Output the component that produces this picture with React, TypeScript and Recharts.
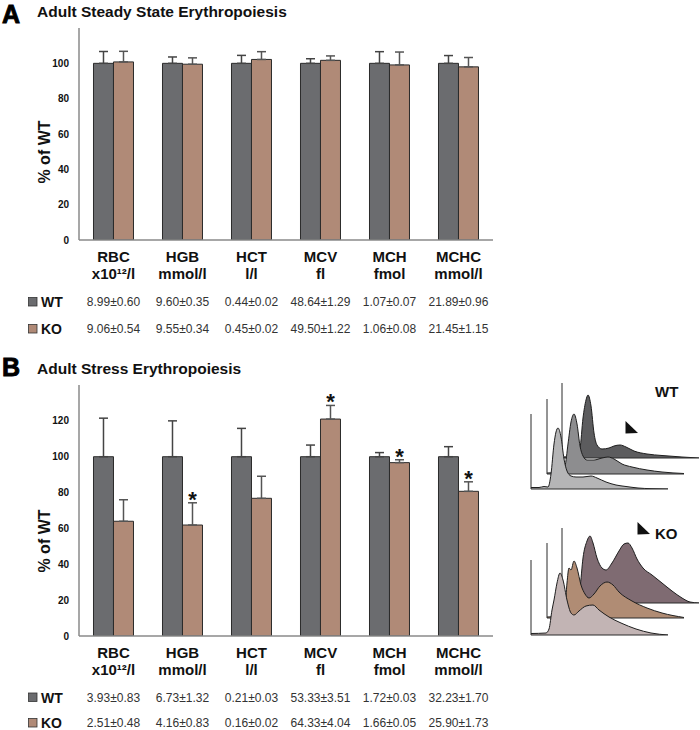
import React from "react";
import {
  BarChart,
  Bar,
  XAxis,
  YAxis,
  ErrorBar,
  LabelList,
  AreaChart,
  Area,
  ReferenceLine,
} from "recharts";

const FONT = "'Liberation Sans', Arial, Helvetica, sans-serif";

// ---------- data ----------
const categories = ["RBC", "HGB", "HCT", "MCV", "MCH", "MCHC"];
const units = ["x10¹²/l", "mmol/l", "l/l", "fl", "fmol", "mmol/l"];

// Panel A – steady state (% of WT)
const steadyWT = [100, 100, 100, 100, 100, 100];
const steadyWTErr = [6.7, 3.6, 4.5, 2.6, 6.6, 4.4];
const steadyKO = [100.8, 99.5, 102.2, 101.7, 99.1, 98.0];
const steadyKOErr = [6.0, 3.6, 4.4, 2.5, 7.3, 5.3];
const steadyWTText = ["8.99±0.60", "9.60±0.35", "0.44±0.02", "48.64±1.29", "1.07±0.07", "21.89±0.96"];
const steadyKOText = ["9.06±0.54", "9.55±0.34", "0.45±0.02", "49.50±1.22", "1.06±0.08", "21.45±1.15"];

// Panel B – stress (% of WT)
const stressWT = [100, 100, 100, 100, 100, 100];
const stressWTErr = [21.5, 20.0, 15.8, 6.5, 2.3, 5.6];
const stressKO = [64.0, 61.9, 76.8, 121.0, 96.7, 80.7];
const stressKOErr = [12.0, 12.4, 12.3, 7.6, 1.6, 5.3];
const stressStar = [false, true, false, true, true, true];
const stressWTText = ["3.93±0.83", "6.73±1.32", "0.21±0.03", "53.33±3.51", "1.72±0.03", "32.23±1.70"];
const stressKOText = ["2.51±0.48", "4.16±0.83", "0.16±0.02", "64.33±4.04", "1.66±0.05", "25.90±1.73"];

const steadyTicks = [0, 20, 40, 60, 80, 100];
const stressTicks = [0, 20, 40, 60, 80, 100, 120];

// Histogram ridges (x position, relative count)
const wtBackX = [0, 14, 18, 21, 24, 26, 29, 32, 35, 40, 47, 52, 58, 64, 72, 85, 100, 120, 137];
const wtBackH = [1, 2, 10, 40, 58, 63, 52, 25, 13, 9, 10, 12, 13, 11, 7, 4, 2.5, 1, 0];
const wtMidX = [0, 14, 18, 21, 24, 27, 30, 33, 36, 40, 47, 55, 61, 67, 75, 85, 100, 115, 137];
const wtMidH = [1, 2, 8, 30, 52, 60, 50, 28, 18, 14, 14, 16, 17, 15, 10, 7, 4, 2, 0.5];
const wtFrontX = [0, 8, 13, 17, 20, 23, 25, 27, 30, 33, 36, 40, 45, 52, 60, 66, 75, 85, 95, 107, 120, 137];
const wtFrontH = [1.5, 1.5, 2.5, 2, 15, 45, 57, 61, 52, 30, 18, 13, 12, 12, 13, 11, 7, 4, 2.5, 1, 0.3, 0];

const koBackX = [0, 15, 18, 21, 25, 28, 31, 35, 40, 44, 50, 57, 62, 66, 70, 75, 81, 90, 100, 110, 120, 128, 137];
const koBackH = [1, 2, 15, 45, 62, 67, 60, 45, 35, 33, 40, 52, 59, 60, 55, 44, 35, 28, 20, 12, 5, 1, 0];
const koMidX = [0, 15, 18, 20, 22, 24, 27, 30, 34, 38, 42, 47, 53, 60, 66, 72, 85, 100, 115, 137];
const koMidH = [1, 2, 10, 35, 50, 48, 57, 50, 33, 24, 20, 24, 32, 36, 33, 26, 17, 10, 5, 0.5];
const koFrontX = [0, 15, 18, 21, 23, 26, 29, 32, 36, 40, 43, 48, 55, 62, 68, 78, 90, 105, 120, 137];
const koFrontH = [1.5, 2, 6, 25, 35, 52, 62, 55, 35, 22, 20, 24, 29, 30, 25, 18, 12, 6, 2, 0];

// ---------- helpers ----------
const WT_COLOR = "#6b6c6f";
const KO_COLOR = "#b08a77";

function buildRows(wt: number[], wtErr: number[], ko: number[], koErr: number[]) {
  return categories.map((cat, i) => ({
    cat,
    wt: wt[i],
    wtErr: [0, wtErr[i]],
    ko: ko[i],
    koErr: [0, koErr[i]],
  }));
}

const steadyRows = buildRows(steadyWT, steadyWTErr, steadyKO, steadyKOErr);
const stressRows = buildRows(stressWT, stressWTErr, stressKO, stressKOErr);

function ridge(xs: number[], hs: number[]) {
  return xs.map((x, i) => ({ x, h: hs[i] }));
}

function makeTick(wtText: string[], koText: string[], wtOff: number, koOff: number) {
  return (props: any) => {
    const { x, y, payload } = props;
    const i = categories.indexOf(payload.value);
    return (
      <g fontFamily={FONT}>
        <text x={x} y={y + 14.4} textAnchor="middle" fontSize={15} fontWeight="bold" fill="#111">
          {payload.value}
        </text>
        <text x={x} y={y + 31} textAnchor="middle" fontSize={15} fontWeight="bold" fill="#111">
          {units[i]}
        </text>
        <text x={x} y={y + wtOff} textAnchor="middle" fontSize={12} fill="#333">
          {wtText[i]}
        </text>
        <text x={x} y={y + koOff} textAnchor="middle" fontSize={12} fill="#333">
          {koText[i]}
        </text>
      </g>
    );
  };
}

const StarLabel = (props: any) => {
  const { x, y, width, height, index } = props;
  if (!stressStar[index]) return null;
  const v = stressKO[index];
  const e = stressKOErr[index];
  const capY = y - e * (height / v);
  return (
    <text x={x + width / 2} y={capY + 4} textAnchor="middle" fontSize={22} fontWeight="bold" fill="#111" fontFamily={FONT}>
      *
    </text>
  );
};

function Ridge({ data, left, baseline, fill }: { data: { x: number; h: number }[]; left: number; baseline: number; fill: string }) {
  return (
    <div style={{ position: "absolute", left: left - 1, top: baseline - 75 }}>
      <AreaChart width={139} height={76} data={data} margin={{ top: 0, right: 1, bottom: 1, left: 1 }}>
        <XAxis dataKey="x" type="number" domain={[0, 137]} hide />
        <YAxis type="number" domain={[0, 75]} hide allowDataOverflow />
        <Area type="monotone" dataKey="h" stroke="#1e1e1e" strokeWidth={1} fill={fill} fillOpacity={1} isAnimationActive={false} />
        <ReferenceLine x={0} stroke="#2a2a2a" strokeWidth={1} />
        <ReferenceLine y={0} stroke="#2a2a2a" strokeWidth={1} />
      </AreaChart>
    </div>
  );
}

const axisStyle = { stroke: "#8a8a8a", strokeWidth: 1.5 };
const yTick = { fontSize: 10, fontWeight: "bold", fill: "#111", fontFamily: FONT };

export default function App() {
  return (
    <div
      style={{
        position: "absolute",
        left: 0,
        top: 0,
        width: 700,
        height: 730,
        overflow: "hidden",
        background: "#fff",
        fontFamily: FONT,
      }}
    >
      {/* Panel A */}
      <div style={{ position: "absolute", left: 0, top: 0 }}>
        <BarChart
          width={700}
          height={340}
          data={steadyRows}
          margin={{ top: 28, right: 207, bottom: 10, left: 0 }}
          barGap={0}
          barCategoryGap="21%"
        >
          <XAxis
            dataKey="cat"
            axisLine={axisStyle}
            tickLine={false}
            interval={0}
            height={90}
            tick={makeTick(steadyWTText, steadyKOText, 58.3, 85)}
          />
          <YAxis
            width={79}
            domain={[0, 120]}
            ticks={steadyTicks}
            allowDataOverflow
            axisLine={axisStyle}
            tickLine={false}
            tickMargin={4}
            tick={yTick}
          />
          <Bar dataKey="wt" fill={WT_COLOR} stroke="#2b2b2b" strokeWidth={1} isAnimationActive={false}>
            <ErrorBar dataKey="wtErr" width={4.5} stroke="#444" strokeWidth={1.5} direction="y" />
          </Bar>
          <Bar dataKey="ko" fill={KO_COLOR} stroke="#2b2b2b" strokeWidth={1} isAnimationActive={false}>
            <ErrorBar dataKey="koErr" width={4.5} stroke="#555" strokeWidth={1.5} direction="y" />
          </Bar>
        </BarChart>
      </div>

      {/* Panel B */}
      <div style={{ position: "absolute", left: 0, top: 340 }}>
        <BarChart
          width={700}
          height={390}
          data={stressRows}
          margin={{ top: 45, right: 207, bottom: 0, left: 0 }}
          barGap={0}
          barCategoryGap="21%"
        >
          <XAxis
            dataKey="cat"
            axisLine={axisStyle}
            tickLine={false}
            interval={0}
            height={94}
            tick={makeTick(stressWTText, stressKOText, 57.8, 83.2)}
          />
          <YAxis
            width={79}
            domain={[0, 140]}
            ticks={stressTicks}
            allowDataOverflow
            axisLine={axisStyle}
            tickLine={false}
            tickMargin={4}
            tick={yTick}
          />
          <Bar dataKey="wt" fill={WT_COLOR} stroke="#2b2b2b" strokeWidth={1} isAnimationActive={false}>
            <ErrorBar dataKey="wtErr" width={4.5} stroke="#444" strokeWidth={1.5} direction="y" />
          </Bar>
          <Bar dataKey="ko" fill={KO_COLOR} stroke="#2b2b2b" strokeWidth={1} isAnimationActive={false}>
            <ErrorBar dataKey="koErr" width={4.5} stroke="#555" strokeWidth={1.5} direction="y" />
            <LabelList dataKey="ko" content={StarLabel} />
          </Bar>
        </BarChart>
      </div>

      {/* Histogram ridges */}
      <Ridge data={ridge(wtBackX, wtBackH)} left={562} baseline={458} fill="#5c5c5e" />
      <Ridge data={ridge(wtMidX, wtMidH)} left={547} baseline={474} fill="#8d8d8f" />
      <Ridge data={ridge(wtFrontX, wtFrontH)} left={531} baseline={489} fill="#b5b5b6" />
      <Ridge data={ridge(koBackX, koBackH)} left={562} baseline={603} fill="#7f6b72" />
      <Ridge data={ridge(koMidX, koMidH)} left={547} baseline={618} fill="#b08c74" />
      <Ridge data={ridge(koFrontX, koFrontH)} left={531} baseline={635} fill="#c2b4b4" />

      {/* Text overlay */}
      <svg width={700} height={730} style={{ position: "absolute", left: 0, top: 0, pointerEvents: "none" }} fontFamily={FONT}>
        <text x={2} y={22.5} fontSize={25} fontWeight="bold" fill="#000" stroke="#000" strokeWidth={0.9}>A</text>
        <text x={37} y={17.2} fontSize={15.5} fontWeight="bold" fill="#111">Adult Steady State Erythropoiesis</text>
        <text x={2} y={376} fontSize={25} fontWeight="bold" fill="#000" stroke="#000" strokeWidth={0.9}>B</text>
        <text x={37} y={373.5} fontSize={15.5} fontWeight="bold" fill="#111">Adult Stress Erythropoiesis</text>

        <text x={49.5} y={152} fontSize={16} fontWeight="bold" fill="#111" textAnchor="middle" transform="rotate(-90 49.5 152)">% of WT</text>
        <text x={49.5} y={541} fontSize={16} fontWeight="bold" fill="#111" textAnchor="middle" transform="rotate(-90 49.5 541)">% of WT</text>

        {/* table legend A */}
        <rect x={28.5} y={297.5} width={8.5} height={8.5} fill={WT_COLOR} stroke="#333" strokeWidth={0.8} />
        <text x={41} y={307} fontSize={14} fontWeight="bold" fill="#111">WT</text>
        <rect x={28.5} y={324.5} width={8.5} height={8.5} fill={KO_COLOR} stroke="#333" strokeWidth={0.8} />
        <text x={41} y={334} fontSize={14} fontWeight="bold" fill="#111">KO</text>

        {/* table legend B */}
        <rect x={28.5} y={693} width={8.5} height={8.5} fill={WT_COLOR} stroke="#333" strokeWidth={0.8} />
        <text x={41} y={702.5} fontSize={14} fontWeight="bold" fill="#111">WT</text>
        <rect x={28.5} y={718.5} width={8.5} height={8.5} fill={KO_COLOR} stroke="#333" strokeWidth={0.8} />
        <text x={41} y={727.5} fontSize={14} fontWeight="bold" fill="#111">KO</text>

        {/* histogram labels */}
        <text x={655} y={397} fontSize={15} fontWeight="bold" fill="#111">WT</text>
        <polygon points="625.5,421 638,433 625.5,433.5" fill="#111" />
        <text x={655} y={538.5} fontSize={15} fontWeight="bold" fill="#111">KO</text>
        <polygon points="637.5,522 650,534 637.5,534.5" fill="#111" />
      </svg>
    </div>
  );
}
